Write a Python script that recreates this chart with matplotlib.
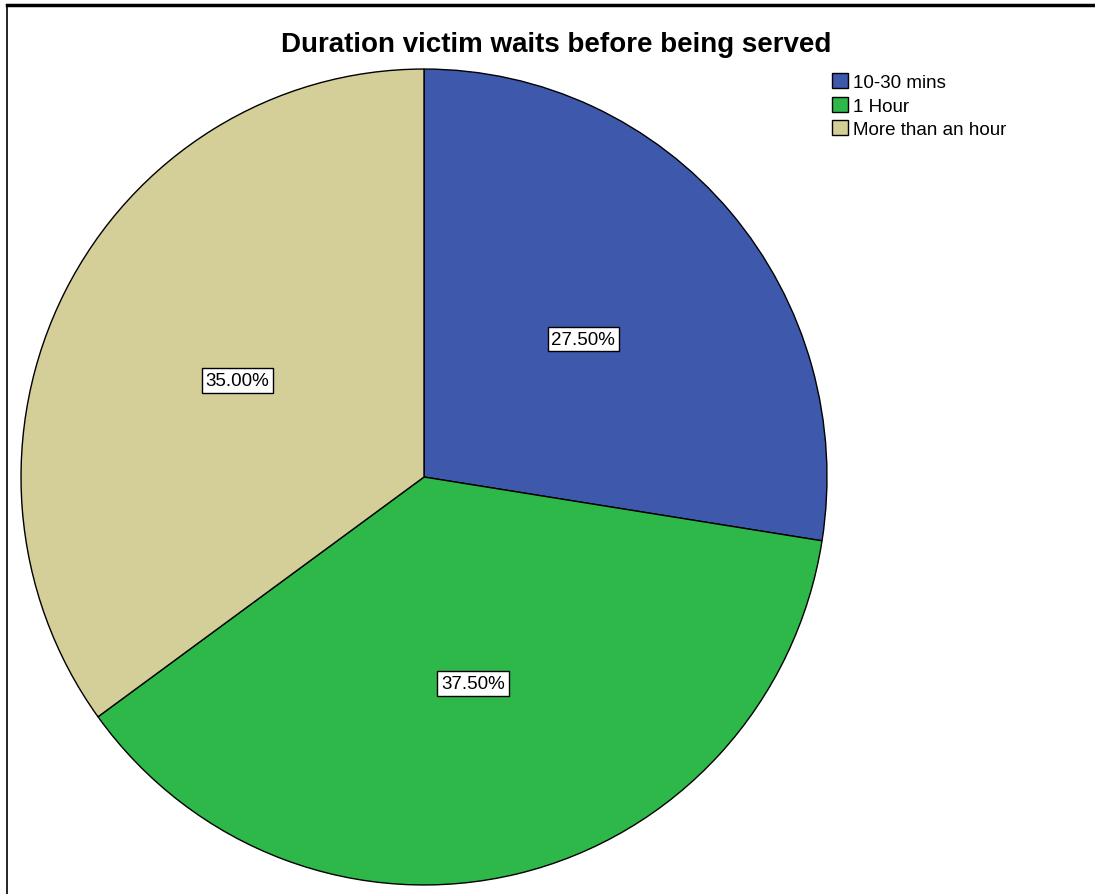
import matplotlib.pyplot as plt
from matplotlib.lines import Line2D

plt.rcParams['font.family'] = ['Liberation Sans', 'DejaVu Sans']

categories = ['10-30 mins', '1 Hour', 'More than an hour']
shares = [27.5, 37.5, 35.0]
colors = ['#3e58ac', '#2eb84a', '#d4ce98']

W, H = 1095, 895
fig = plt.figure(figsize=(W / 100, H / 100), dpi=100)

# pie box: centre (424, 478) px, radii 405 x 410 px
cx, cy, rx, ry = 424, 478, 405, 410
ax = fig.add_axes([(cx - rx) / W, (H - cy - ry) / H, 2 * rx / W, 2 * ry / H])

wedges, texts, autotexts = ax.pie(
    shares, colors=colors, startangle=90, counterclock=False,
    autopct='%.2f%%', pctdistance=0.52, radius=1.0,
    wedgeprops=dict(edgecolor='black', linewidth=1.0),
    textprops=dict(fontsize=13.5, color='black'))
for t in autotexts:
    t.set_bbox(dict(boxstyle='square,pad=0.2', facecolor='white',
                    edgecolor='black', linewidth=1.0))
ax.set_aspect('auto')
ax.set_xlim(-1.005, 1.005)
ax.set_ylim(-1.005, 1.005)
ax.axis('off')

fig.text(556 / W, 1 - 45 / H, 'Duration victim waits before being served',
         ha='center', va='center', fontsize=20, fontweight='bold')

fig.legend(wedges, categories, loc='upper left',
           bbox_to_anchor=(832 / W, 1 - 74 / H), frameon=False,
           fontsize=13.5, handlelength=0.85, handleheight=0.85,
           handletextpad=0.25, labelspacing=0.3, borderpad=0,
           borderaxespad=0)

# frame lines at top and left
fig.add_artist(Line2D([7 / W, 1], [1 - 6 / H, 1 - 6 / H], color='black',
                      linewidth=2.5, transform=fig.transFigure))
fig.add_artist(Line2D([7 / W, 7 / W], [0, 1 - 6 / H], color='black',
                      linewidth=1.2, transform=fig.transFigure))

fig.savefig('out.png', dpi=100)
